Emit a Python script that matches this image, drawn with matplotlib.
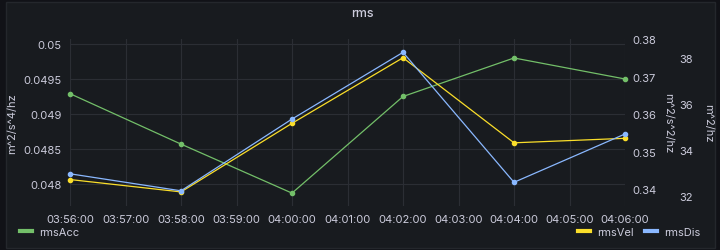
import numpy as np
import pandas as pd
import matplotlib
matplotlib.use('Agg')
import matplotlib.pyplot as plt
import matplotlib.dates as mdates
from matplotlib.lines import Line2D
from matplotlib.patches import Rectangle

# -----------------
#    data
# -----------------
times = pd.to_datetime(['2021-01-01 03:56:00', '2021-01-01 03:58:00', '2021-01-01 04:00:00',
                        '2021-01-01 04:02:00', '2021-01-01 04:04:00', '2021-01-01 04:06:00'])
rms_acc = [0.04929, 0.04857, 0.04787, 0.04925, 0.04980, 0.04950]
rms_vel = [0.3426, 0.3393, 0.3576, 0.3751, 0.3524, 0.3536]
rms_dis = [32.97, 32.23, 35.35, 38.25, 32.60, 34.70]

acc_ticks = [0.048, 0.0485, 0.049, 0.0495, 0.05]
vel_ticks = [0.34, 0.35, 0.36, 0.37, 0.38]
dis_ticks = [32, 34, 36, 38]

# -----------------
#    style
# -----------------
plt.rcParams['font.family'] = ['Inter', 'DejaVu Sans']
bg_out = '#111217'
bg = '#181b1f'
txt = '#ccccdc'
grid_c = '#2b2e34'
c_acc = '#73bf69'
c_vel = '#fade2a'
c_dis = '#8ab8ff'

W, H = 720, 251
fig = plt.figure(figsize=(W / 100, H / 100), dpi=100, facecolor=bg_out)
fig.patches.append(Rectangle((6 / W, 2 / H), 709 / W, 246 / H, transform=fig.transFigure,
                             facecolor=bg, edgecolor='#24272c', lw=1, zorder=-10))

x0, x1, y0, y1 = 70, 625, 40, 207
ax = fig.add_axes([x0 / W, 1 - y1 / H, (x1 - x0) / W, (y1 - y0) / H])
ax.set_facecolor('none')
ax2 = ax.twinx()
ax3 = ax.twinx()

for a in (ax, ax2, ax3):
    for s in a.spines.values():
        s.set_visible(False)
    a.tick_params(length=0, colors=txt, labelsize=8)

ax.plot(times, rms_acc, '-o', color=c_acc, lw=0.9, ms=3, clip_on=False, zorder=3)
ax2.plot(times, rms_vel, '-o', color=c_vel, lw=0.9, ms=3, clip_on=False, zorder=3)
ax3.plot(times, rms_dis, '-o', color=c_dis, lw=0.9, ms=3, clip_on=False, zorder=3)

ax.set_xlim(times[0], times[-1])
ax.set_ylim(0.047686, 0.050071)
ax2.set_ylim(0.33554, 0.3801)
ax3.set_ylim(31.57, 38.83)

ax.set_yticks(acc_ticks)
ax.set_yticklabels(['0.048', '0.0485', '0.049', '0.0495', '0.05'])
ax2.set_yticks(vel_ticks)
ax2.set_yticklabels(['0.34', '0.35', '0.36', '0.37', '0.38'])
ax3.set_yticks(dis_ticks)
ax3.set_yticklabels([str(t) for t in dis_ticks])

ax.xaxis.set_major_locator(mdates.MinuteLocator(interval=1))
ax.xaxis.set_major_formatter(mdates.DateFormatter('%H:%M:%S'))
ax.tick_params(axis='x', pad=6)
ax.tick_params(axis='y', pad=6)
ax2.tick_params(axis='y', pad=5)
ax3.tick_params(axis='y', pad=39)

ax.grid(True, color=grid_c, lw=0.8)
ax.set_axisbelow(True)

ax.set_ylabel('m^2/s^4/hz', color=txt, fontsize=8)
ax.yaxis.set_label_coords((17 - x0) / (x1 - x0), 0.5)
ax2.set_ylabel('m^2/s^2/hz', color=txt, fontsize=8, rotation=270, va='center')
ax2.yaxis.set_label_coords((668 - x0) / (x1 - x0), 0.5)
ax3.set_ylabel('m^2/hz', color=txt, fontsize=8, rotation=270, va='center')
ax3.yaxis.set_label_coords((708 - x0) / (x1 - x0), 0.5)

fig.text(362 / W, 1 - 14 / H, 'rms', color=txt, fontsize=9, ha='center', va='center',
         fontweight='medium')

# legends
h_acc = [Line2D([], [], color=c_acc, lw=3)]
h_right = [Line2D([], [], color=c_vel, lw=3), Line2D([], [], color=c_dis, lw=3)]
leg1 = fig.legend(h_acc, ['rmsAcc'], loc='center left', bbox_to_anchor=(10 / W, 1 - 233 / H),
                  frameon=False, fontsize=8, labelcolor=txt, handlelength=1.1,
                  handletextpad=0.6)
leg2 = fig.legend(h_right, ['rmsVel', 'rmsDis'], loc='center right',
                  bbox_to_anchor=(710 / W, 1 - 233 / H), ncol=2, frameon=False, fontsize=8,
                  labelcolor=txt, handlelength=1.1, handletextpad=0.6, columnspacing=1.0)

fig.savefig('out.png', dpi=100, facecolor=bg_out)
